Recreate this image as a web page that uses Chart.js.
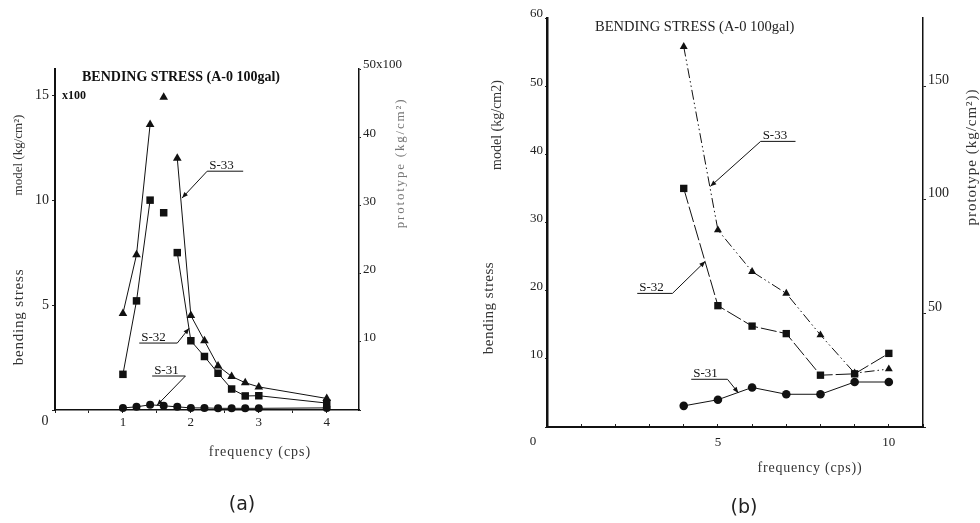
<!DOCTYPE html>
<html><head><meta charset="utf-8">
<script src="https://cdn.jsdelivr.net/npm/chart.js@4.4.1/dist/chart.umd.min.js"></script>
<style>
html,body{margin:0;padding:0;background:#fff;width:980px;height:523px;overflow:hidden}
canvas{position:absolute;top:0}
#ca{left:0}
#cb{left:450px}
</style></head><body>
<canvas id="ca" width="450" height="523"></canvas>
<canvas id="cb" width="530" height="523"></canvas>
<script>
// ---------- Panel (a) data ----------
const freqA = [1.0, 1.2, 1.4, 1.6, 1.8, 2.0, 2.2, 2.4, 2.6, 2.8, 3.0, 4.0];
const s33A  = [4.6, 7.4, 13.6, 14.9, 12.0, 4.5, 3.3, 2.1, 1.6, 1.3, 1.1, 0.55];
const s32A  = [1.7, 5.2, 10.0, 9.4, 7.5, 3.3, 2.55, 1.75, 1.0, 0.67, 0.68, 0.33];
const s31A  = [0.1, 0.15, 0.25, 0.2, 0.15, 0.1, 0.1, 0.08, 0.08, 0.08, 0.08, 0.1];
const gapFreqA = [1.6];               // isolated peak readings, not joined
const aXTickLabels = [1, 2, 3, 4];
const aYTickLabels = [5, 10, 15];
const aY2TickLabels = [10, 20, 30, 40];
const aY2TopLabel = '50x100';

// ---------- Panel (b) data ----------
const freqB = [4, 5, 6, 7, 8, 9, 10];
const s33B  = [55.8, 28.9, 22.8, 19.6, 13.5, 7.9, 8.5];
const s32B  = [35.0, 17.8, 14.8, 13.7, 7.6, 7.8, 10.8];
const s31B  = [3.1, 4.0, 5.8, 4.8, 4.8, 6.6, 6.6];
const bXTickLabels = [5, 10];
const bYTickLabels = [10, 20, 30, 40, 50, 60];
const bY2TickLabels = [50, 100, 150];

const SERIF = '"Liberation Serif", "DejaVu Serif", serif';
const INK = '#111';

function pts(xs, ys) { return xs.map((x, i) => ({ x: x, y: ys[i] })); }

// annotation: label text, underline (x0,x1,y) in data units, leader from 'start' or 'end', tip (x,y)
const annoA = [
  { text: 'S-33', x0: 2.24, x1: 2.77, y: 11.38, from: 'start', tx: 1.87, ty: 10.1 },
  { text: 'S-32', x0: 1.24, x1: 1.80, y: 3.19, from: 'end', tx: 1.975, ty: 3.9 },
  { text: 'S-31', x0: 1.43, x1: 1.92, y: 1.62, from: 'end', tx: 1.50, ty: 0.22 }
];
const annoB = [
  { text: 'S-33', x0: 6.25, x1: 7.27, y: 41.9, from: 'start', tx: 4.78, ty: 35.3 },
  { text: 'S-32', x0: 2.64, x1: 3.67, y: 19.6, from: 'end', tx: 4.63, ty: 24.3 },
  { text: 'S-31', x0: 4.22, x1: 5.28, y: 7.0, from: 'end', tx: 5.6, ty: 5.0 }
];

function annoPlugin(annos, texts) {
  return {
    id: 'anno',
    afterDraw(chart) {
      const ctx = chart.ctx, xs = chart.scales.x, ys = chart.scales.y;
      ctx.save();
      ctx.strokeStyle = INK; ctx.fillStyle = INK; ctx.lineWidth = 1;
      annos.forEach(a => {
        const ux0 = xs.getPixelForValue(a.x0), ux1 = xs.getPixelForValue(a.x1);
        const uy = ys.getPixelForValue(a.y);
        const tx = xs.getPixelForValue(a.tx), ty = ys.getPixelForValue(a.ty);
        const ox = a.from === 'start' ? ux0 : ux1;
        ctx.beginPath();
        ctx.moveTo(ux0, uy); ctx.lineTo(ux1, uy);
        ctx.moveTo(ox, uy); ctx.lineTo(tx, ty);
        ctx.stroke();
        const ang = Math.atan2(ty - uy, tx - ox);
        const L = 6, W = 2.4;
        ctx.beginPath();
        ctx.moveTo(tx, ty);
        ctx.lineTo(tx - L * Math.cos(ang) + W * Math.sin(ang), ty - L * Math.sin(ang) - W * Math.cos(ang));
        ctx.lineTo(tx - L * Math.cos(ang) - W * Math.sin(ang), ty - L * Math.sin(ang) + W * Math.cos(ang));
        ctx.closePath(); ctx.fill();
        ctx.font = '13px ' + SERIF;
        ctx.textAlign = 'left'; ctx.textBaseline = 'alphabetic';
        ctx.fillText(a.text, ux0 + 2, uy - 2);
      });
      texts.forEach(t => {
        ctx.save();
        ctx.font = t.font; ctx.fillStyle = t.color || '#222';
        if ('letterSpacing' in ctx) ctx.letterSpacing = (t.ls || 0) + 'px';
        ctx.textAlign = t.align || 'center'; ctx.textBaseline = 'middle';
        ctx.translate(t.x, t.y);
        if (t.rot) ctx.rotate(t.rot);
        ctx.fillText(t.text, 0, 0);
        ctx.restore();
      });
      ctx.restore();
    }
  };
}

function baseDs(label, data, style, r, extra) {
  return Object.assign({
    label: label, data: data, showLine: true, yAxisID: 'y',
    borderColor: INK, backgroundColor: INK, borderWidth: 1,
    pointStyle: style, pointRadius: r, pointBorderWidth: 0,
    pointBackgroundColor: INK, clip: false
  }, extra || {});
}

const gapSeg = {
  borderColor: c => (gapFreqA.includes(c.p0.parsed.x) || gapFreqA.includes(c.p1.parsed.x)) ? 'rgba(0,0,0,0)' : INK
};

function tickFont(sz) { return { family: SERIF, size: sz }; }

// ---------- Chart (a) ----------
new Chart(document.getElementById('ca'), {
  type: 'scatter',
  data: {
    datasets: [
      baseDs('S-31', pts(freqA, s31A), 'circle', 4),
      baseDs('S-32', pts(freqA, s32A), 'rect', 5.3, { segment: gapSeg }),
      baseDs('S-33', pts(freqA, s33A), 'triangle', 5, { segment: gapSeg })
    ]
  },
  options: {
    responsive: false, animation: false, devicePixelRatio: 1,
    layout: { padding: { left: 15, right: 36, top: 69, bottom: 73 } },
    plugins: { legend: { display: false }, tooltip: { enabled: false } },
    scales: {
      x: {
        type: 'linear', min: 0, max: 4.475, position: 'bottom',
        afterFit: s => { s.height = 40; },
        grid: { drawOnChartArea: false, drawTicks: true, tickLength: 3, tickColor: '#222' },
        border: { display: true, color: INK, width: 1.5 },
        ticks: { stepSize: 0.5, includeBounds: false, padding: 2, color: '#222', font: tickFont(13), maxRotation: 0, autoSkip: false,
          callback: v => aXTickLabels.includes(v) ? String(v) : '' }
      },
      y: {
        type: 'linear', position: 'left', min: 0, max: 16.25,
        afterFit: s => { s.width = 40; },
        grid: { drawOnChartArea: false, drawTicks: true, tickLength: 3, tickColor: '#222' },
        border: { display: true, color: INK, width: 2 },
        ticks: { stepSize: 5, includeBounds: false, padding: 3, color: '#222', font: tickFont(14), autoSkip: false,
          callback: v => aYTickLabels.includes(v) ? String(v) : '' }
      },
      y2: {
        type: 'linear', position: 'right', min: 0, max: 50,
        afterFit: s => { s.width = 55; },
        grid: { drawOnChartArea: false, drawTicks: true, tickLength: 2, tickColor: '#222' },
        border: { display: true, color: INK, width: 1.5 },
        ticks: { stepSize: 10, includeBounds: false, padding: 2, labelOffset: -4, color: '#222', font: tickFont(13), autoSkip: false,
          callback: v => v === 50 ? aY2TopLabel : (aY2TickLabels.includes(v) ? String(v) : '') }
      }
    }
  },
  plugins: [annoPlugin(annoA, [
    { text: 'BENDING STRESS (A-0 100gal)', x: 82, y: 77, align: 'left', font: 'bold 14px ' + SERIF, color: '#111' },
    { text: 'x100', x: 62, y: 96, align: 'left', font: 'bold 12px ' + SERIF, color: '#111' },
    { text: '0', x: 45, y: 421, font: '14px ' + SERIF },
    { text: 'model (kg/cm²)', x: 19, y: 155, rot: -Math.PI / 2, font: '13px ' + SERIF, color: '#333' },
    { text: 'bending stress', x: 19, y: 317, rot: -Math.PI / 2, font: '15px ' + SERIF, color: '#333', ls: 0.8 },
    { text: 'prototype (kg/cm²)', x: 401, y: 163, rot: -Math.PI / 2, font: '13px ' + SERIF, color: '#777', ls: 1.8 },
    { text: 'frequency (cps)', x: 260, y: 452, font: '14px ' + SERIF, color: '#333', ls: 1 },
    { text: '(a)', x: 242, y: 505, font: '19px "DejaVu Sans", sans-serif', color: '#222' }
  ])]
});

// ---------- Chart (b) ----------
new Chart(document.getElementById('cb'), {
  type: 'scatter',
  data: {
    datasets: [
      baseDs('S-31', pts(freqB, s31B), 'circle', 4.3),
      baseDs('S-32', pts(freqB, s32B), 'rect', 5.2, { borderDash: [16, 3] }),
      baseDs('S-33', pts(freqB, s33B), 'triangle', 4.6, { borderDash: [10, 3, 1.5, 3, 1.5, 3] })
    ]
  },
  options: {
    responsive: false, animation: false, devicePixelRatio: 1,
    layout: { padding: { left: 57, right: 17, top: 18, bottom: 56 } },
    plugins: { legend: { display: false }, tooltip: { enabled: false } },
    scales: {
      x: {
        type: 'linear', min: 0, max: 11, position: 'bottom',
        afterFit: s => { s.height = 40; },
        grid: { drawOnChartArea: false, drawTicks: true, tickLength: -3, tickColor: '#222' },
        border: { display: true, color: INK, width: 2 },
        ticks: { stepSize: 1, includeBounds: false, padding: 11, color: '#222', font: tickFont(13), maxRotation: 0, autoSkip: false,
          callback: v => bXTickLabels.includes(v) ? String(v) : '' }
      },
      y: {
        type: 'linear', position: 'left', min: 0, max: 60,
        afterFit: s => { s.width = 40; },
        grid: { drawOnChartArea: false, drawTicks: true, tickLength: 2, tickColor: '#222' },
        border: { display: true, color: INK, width: 2.5 },
        ticks: { stepSize: 10, includeBounds: false, padding: 2, labelOffset: -4, color: '#222', font: tickFont(13), autoSkip: false,
          callback: v => bYTickLabels.includes(v) ? String(v) : '' }
      },
      y2: {
        type: 'linear', position: 'right', min: 0, max: 180,
        afterFit: s => { s.width = 40; },
        grid: { drawOnChartArea: false, drawTicks: true, tickLength: 3, tickColor: '#222' },
        border: { display: true, color: INK, width: 1.5 },
        ticks: { stepSize: 50, includeBounds: false, padding: 2, labelOffset: -6, color: '#222', font: tickFont(14), autoSkip: false,
          callback: v => bY2TickLabels.includes(v) ? String(v) : '' }
      }
    }
  },
  plugins: [annoPlugin(annoB, [
    { text: 'BENDING STRESS (A-0 100gal)', x: 145, y: 27, align: 'left', font: '14.5px ' + SERIF, color: '#222' },
    { text: '0', x: 83, y: 442, font: '13px ' + SERIF },
    { text: 'model (kg/cm2)', x: 47, y: 125, rot: -Math.PI / 2, font: '14px ' + SERIF, color: '#333' },
    { text: 'bending stress', x: 39, y: 308, rot: -Math.PI / 2, font: '15px ' + SERIF, color: '#333', ls: 0.5 },
    { text: 'prototype (kg/cm²))', x: 522, y: 157, rot: -Math.PI / 2, font: '15px ' + SERIF, color: '#333', ls: 1 },
    { text: 'frequency (cps))', x: 360, y: 468, font: '14px ' + SERIF, color: '#333', ls: 0.8 },
    { text: '(b)', x: 294, y: 508, font: '19px "DejaVu Sans", sans-serif', color: '#222' }
  ])]
});
</script>
</body></html>
